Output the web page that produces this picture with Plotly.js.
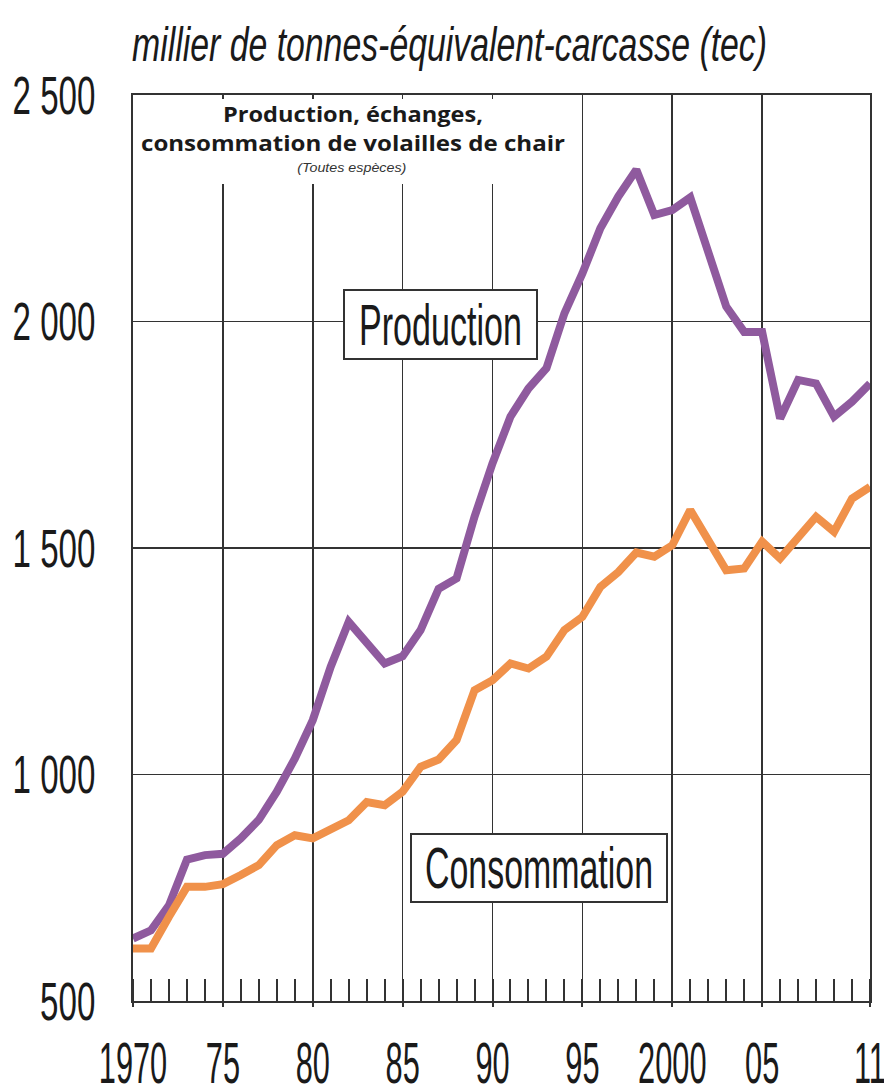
<!DOCTYPE html>
<html>
<head>
<meta charset="utf-8">
<script src="https://cdn.plot.ly/plotly-3.0.1.min.js"></script>
<style>
  html, body { margin: 0; padding: 0; background: #ffffff; }
  #chart { width: 884px; height: 1090px; }
</style>
</head>
<body>
<div id="chart"></div>
<script>
// ---- data ----
const years = [1970, 1971, 1972, 1973, 1974, 1975, 1976, 1977, 1978, 1979,
               1980, 1981, 1982, 1983, 1984, 1985, 1986, 1987, 1988, 1989,
               1990, 1991, 1992, 1993, 1994, 1995, 1996, 1997, 1998, 1999,
               2000, 2001, 2002, 2003, 2004, 2005, 2006, 2007, 2008, 2009,
               2010, 2011];
const production = [638, 656, 711, 812, 822, 825, 859, 900, 962, 1035,
                    1120, 1238, 1337, 1289, 1245, 1261, 1319, 1410, 1433, 1569,
                    1687, 1790, 1852, 1897, 2018, 2106, 2206, 2276, 2335, 2235,
                    2246, 2274, 2151, 2033, 1977, 1977, 1786, 1871, 1863, 1790,
                    1823, 1863];
const consommation = [616, 616, 686, 752, 752, 758, 778, 800, 844, 866,
                      859, 881, 899, 939, 932, 962, 1017, 1033, 1076, 1186,
                      1208, 1245, 1234, 1260, 1319, 1348, 1414, 1447, 1490, 1481,
                      1506, 1584, 1517, 1451, 1455, 1514, 1477, 1521, 1569, 1536,
                      1609, 1635];
const xTickVals = [1970, 1975, 1980, 1985, 1990, 1995, 2000, 2005, 2011];
const xTickText = ['1970', '75', '80', '85', '90', '95', '2000', '05', '11'];
const yTickVals = [500, 1000, 1500, 2000, 2500];
const yTickText = ['500', '1 000', '1 500', '2 000', '2 500'];
const seriesNames = ['Production', 'Consommation'];
const unitTitle = 'millier de tonnes-équivalent-carcasse (tec)';
const chartTitle = ['Production, échanges,', 'consommation de volailles de chair'];
const subTitle = '(Toutes espèces)';

// ---- layout geometry ----
const W = 884, H = 1090;
const M = { l: 133, r: 14, t: 95, b: 89 };
const PW = W - M.l - M.r, PH = H - M.t - M.b;
const px2x = px => (px - M.l) / PW;         // page px -> paper x
const py2y = py => (H - M.b - py) / PH;     // page px -> paper y

const FONT = 'Liberation Sans, Arial, sans-serif';
const INK = '#1a1a1a';
const GRID = '#333333';

const traces = [
  { x: years, y: production, name: seriesNames[0], type: 'scatter', mode: 'lines',
    line: { color: '#8f5a9e', width: 8 }, hoverinfo: 'skip' },
  { x: years, y: consommation, name: seriesNames[1], type: 'scatter', mode: 'lines',
    line: { color: '#f0914a', width: 8 }, hoverinfo: 'skip' }
];

const layout = {
  width: W, height: H,
  margin: M,
  paper_bgcolor: '#ffffff', plot_bgcolor: '#ffffff',
  showlegend: false,
  font: { family: FONT, color: INK },
  title: {
    text: chartTitle.join('<br>'),
    font: { family: 'Open Sans, Liberation Sans, sans-serif', size: 22, weight: 700, color: INK },
    xref: 'container', yref: 'container',
    x: 353 / W, xanchor: 'center',
    y: 1 - 122 / H, yanchor: 'top'
  },
  xaxis: {
    range: [1970, 2011],
    tickmode: 'array', tickvals: xTickVals, ticktext: xTickText,
    tickangle: 0, ticklabeloverflow: 'allow',
    ticks: 'outside', ticklen: 4, tickwidth: 2, tickcolor: GRID,
    tickfont: { family: FONT, size: 58, color: INK },
    ticklabelstandoff: 6,
    showgrid: true, gridcolor: GRID, gridwidth: 1.6,
    showline: true, linecolor: GRID, linewidth: 2, mirror: true,
    zeroline: false, fixedrange: true,
    minor: { tickmode: 'linear', tick0: 1970, dtick: 1, ticks: 'inside',
             ticklen: 22, tickwidth: 2, tickcolor: GRID, showgrid: false }
  },
  yaxis: {
    range: [500, 2500],
    tickmode: 'array', tickvals: yTickVals, ticktext: yTickText,
    ticks: '',
    tickfont: { family: FONT, size: 53, color: INK },
    ticklabelstandoff: 25,
    showgrid: true, gridcolor: GRID, gridwidth: 1.6,
    showline: true, linecolor: GRID, linewidth: 2, mirror: true,
    zeroline: false, fixedrange: true
  },
  shapes: [
    { type: 'rect', layer: 'above', xref: 'paper', yref: 'paper',
      x0: px2x(136), x1: px2x(578), y0: py2y(184), y1: py2y(99),
      fillcolor: '#ffffff', line: { width: 0 } }
  ],
  annotations: [
    { text: unitTitle, xref: 'paper', yref: 'paper', x: px2x(130), y: py2y(44),
      xanchor: 'left', yanchor: 'middle', align: 'left', showarrow: false,
      font: { family: FONT, size: 48, style: 'italic', color: INK } },
    { text: seriesNames[0], xref: 'x', yref: 'y', x: 1987.11, y: 1993,
      xanchor: 'center', yanchor: 'middle', showarrow: false,
      width: 191, height: 67, borderwidth: 2, borderpad: 0,
      bordercolor: '#333333', bgcolor: '#ffffff',
      font: { family: FONT, size: 57, color: INK } },
    { text: seriesNames[1], xref: 'x', yref: 'y', x: 1992.59, y: 794,
      xanchor: 'center', yanchor: 'middle', showarrow: false,
      width: 254, height: 66, borderwidth: 2, borderpad: 0,
      bordercolor: '#333333', bgcolor: '#ffffff',
      font: { family: FONT, size: 57, color: INK } },
    { text: subTitle, xref: 'paper', yref: 'paper', x: px2x(352), y: py2y(168),
      xanchor: 'center', yanchor: 'middle', showarrow: false,
      font: { family: FONT, size: 12, style: 'italic', color: '#333333' } }
  ]
};

// targets (px) used to condense the narrow typefaces of the original
const annWidths = { 0: 635, 1: 163, 2: 228, 3: 109 };
const titleWidths = [260, 424];

function fit(el, target) {
  el.removeAttribute('textLength');
  el.setAttribute('textLength', target.toFixed(1));
  el.setAttribute('lengthAdjust', 'spacingAndGlyphs');
}
function squeeze(sel, factor) {
  document.querySelectorAll(sel).forEach(t => {
    t.removeAttribute('textLength');
    const w = t.getComputedTextLength();
    fit(t, w * factor);
  });
}

Plotly.newPlot('chart', traces, layout, { displayModeBar: false, responsive: false, staticPlot: true })
  .then(() => {
    squeeze('.xtick text', 0.53);
    squeeze('.ytick text', 0.625);
    document.querySelectorAll('.annotation').forEach(a => {
      const i = a.getAttribute('data-index');
      const t = a.querySelector('text.annotation-text');
      if (t && annWidths[i] !== undefined) fit(t, annWidths[i]);
    });
    const lines = document.querySelectorAll('.gtitle tspan.line');
    lines.forEach((ts, i) => { if (titleWidths[i]) fit(ts, titleWidths[i]); });
  });
</script>
</body>
</html>
